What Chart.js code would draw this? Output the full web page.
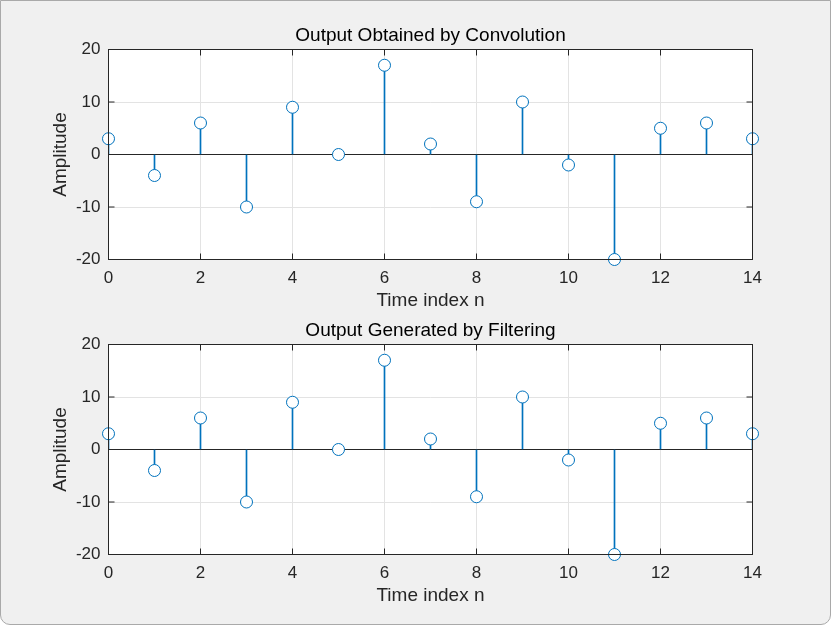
<!DOCTYPE html>
<html>
<head>
<meta charset="utf-8">
<script src="https://cdn.jsdelivr.net/npm/chart.js@4/dist/chart.umd.min.js"></script>
<style>
  html, body { margin:0; padding:0; background:#ffffff; }
  #frame { position:absolute; left:0; top:0; width:829px; height:623px; background:#f0f0f0;
           border:1px solid #a9a9a9; border-radius:0 0 10px 10px; }
  canvas { position:absolute; left:0; }
  #c1 { top:0; }
  #c2 { top:295px; }
</style>
</head>
<body>
<div id="frame"></div>
<canvas id="c1" width="831" height="312"></canvas>
<canvas id="c2" width="831" height="312"></canvas>
<script>
// ---- data ----
const timeIndex = [0,1,2,3,4,5,6,7,8,9,10,11,12,13,14];
const convOutput = [3,-4,6,-10,9,0,17,2,-9,10,-2,-20,5,6,3];
const filterOutput = [3,-4,6,-10,9,0,17,2,-9,10,-2,-20,5,6,3];
const xTicks = [0,2,4,6,8,10,12,14];
const yTicks = [-20,-10,0,10,20];
const titles = ['Output Obtained by Convolution', 'Output Generated by Filtering'];
const xLabel = 'Time index n';
const yLabel = 'Amplitude';

const BLUE = '#0072BD';
const AX = '#262626';
const FONT = "'Liberation Sans', Arial, Helvetica, sans-serif";

const boxPlugin = {
  id: 'matlabBox',
  beforeDraw(chart) {
    const {ctx, chartArea: a} = chart;
    ctx.save();
    ctx.fillStyle = '#ffffff';
    ctx.fillRect(a.left, a.top, a.right - a.left, a.bottom - a.top);
    ctx.restore();
  },
  afterDatasetsDraw(chart) {
    const {ctx, chartArea: a, scales: {x, y}} = chart;
    ctx.save();
    ctx.strokeStyle = AX;
    ctx.lineWidth = 1;
    ctx.strokeRect(a.left, a.top, a.right - a.left, a.bottom - a.top);
    const L = 6;
    ctx.beginPath();
    x.ticks.forEach(t => {
      const px = x.getPixelForValue(t.value);
      ctx.moveTo(px, a.bottom); ctx.lineTo(px, a.bottom - L);
      ctx.moveTo(px, a.top); ctx.lineTo(px, a.top + L);
    });
    y.ticks.forEach(t => {
      const py = y.getPixelForValue(t.value);
      ctx.moveTo(a.left, py); ctx.lineTo(a.left + L, py);
      ctx.moveTo(a.right, py); ctx.lineTo(a.right - L, py);
    });
    ctx.stroke();
    ctx.restore();
  }
};

function makeChart(id, title, values) {
  const pts = timeIndex.map((n, i) => ({x: n, y: values[i]}));
  return new Chart(document.getElementById(id), {
    data: {
      datasets: [
        { type: 'bar', data: pts, backgroundColor: BLUE, borderWidth: 0, barThickness: 1, order: 2 },
        { type: 'scatter', data: pts, pointRadius: 6, pointHoverRadius: 6, pointBorderWidth: 1,
          pointBorderColor: BLUE, pointBackgroundColor: '#ffffff', showLine: false, clip: false, order: 1 }
      ]
    },
    options: {
      responsive: false,
      animation: false,
      events: [],
      layout: { padding: { left: 0, right: 78.5, top: 0, bottom: 0 } },
      plugins: {
        legend: { display: false },
        tooltip: { enabled: false },
        title: { display: true, fullSize: false, text: title, color: '#000000',
                 font: { family: FONT, size: 19, weight: 'normal' },
                 padding: { top: 24, bottom: 2.7 } }
      },
      scales: {
        x: {
          type: 'linear', min: 0, max: 14, offset: false,
          afterFit: s => { s.height = 52.5; },
          afterBuildTicks: s => { s.ticks = xTicks.map(v => ({value: v})); },
          ticks: { color: AX, font: { family: FONT, size: 17 }, padding: 9, maxRotation: 0, autoSkip: false },
          grid: { color: '#e3e3e3', drawTicks: false, offset: false },
          border: { display: false },
          title: { display: true, text: xLabel, color: AX, font: { family: FONT, size: 19 }, padding: { top: 0, bottom: 0 } }
        },
        y: {
          type: 'linear', min: -20, max: 20,
          afterFit: s => { s.width = 108.5; },
          afterBuildTicks: s => { s.ticks = yTicks.map(v => ({value: v})); },
          ticks: { color: AX, font: { family: FONT, size: 17 }, padding: 8 },
          grid: { color: ctx => (ctx.tick && ctx.tick.value === 0) ? AX : '#e3e3e3', drawTicks: false },
          border: { display: false },
          title: { display: true, text: yLabel, color: AX, font: { family: FONT, size: 19 }, padding: { top: 49, bottom: 0 } }
        }
      }
    },
    plugins: [boxPlugin]
  });
}

makeChart('c1', titles[0], convOutput);
makeChart('c2', titles[1], filterOutput);
</script>
</body>
</html>
